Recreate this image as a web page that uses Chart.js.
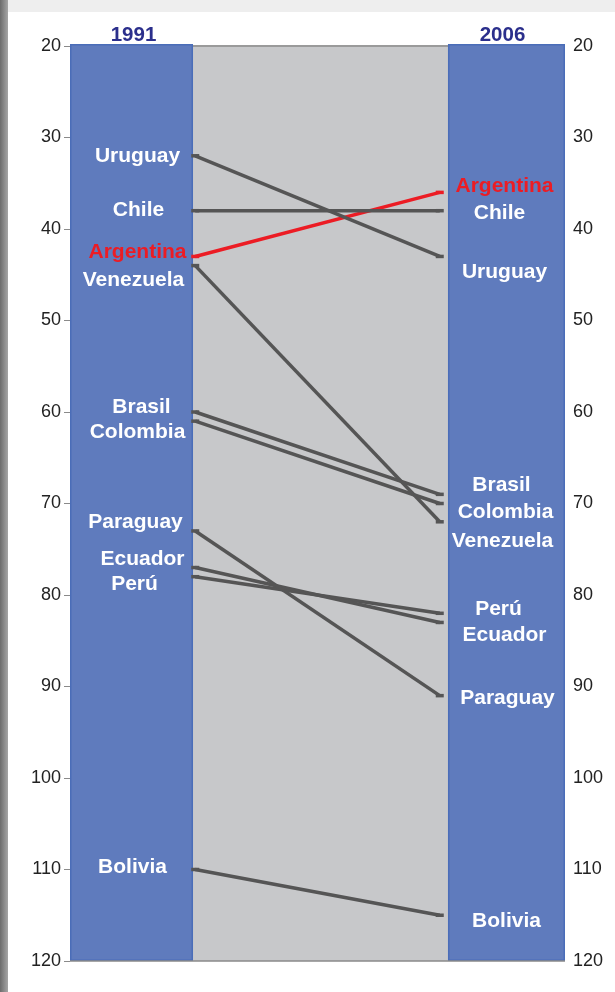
<!DOCTYPE html>
<html>
<head>
<meta charset="utf-8">
<script src="https://cdn.jsdelivr.net/npm/chart.js@4"></script>
<style>
  body { margin: 0; background: #fff; }
  #wrap { position: relative; width: 615px; height: 992px; overflow: hidden; }
  #shade { position: absolute; left: 0; top: 0; width: 8px; height: 992px; background: linear-gradient(to right, #6c6c6c, #a6a6a6); }
  #topband { position: absolute; left: 8px; top: 0; width: 607px; height: 12px; background: #eeeeee; }
  canvas { position: absolute; left: 0; top: 0; }
</style>
</head>
<body>
<div id="wrap">
  <div id="shade"></div>
  <div id="topband"></div>
  <canvas id="slope" width="615" height="992"></canvas>
</div>
<script>
const years = ['1991', '2006'];
const countries = ['Uruguay', 'Chile', 'Argentina', 'Venezuela', 'Brasil', 'Colombia', 'Paraguay', 'Ecuador', 'Perú', 'Bolivia'];
const rank1991 = [32, 38, 43, 44, 60, 61, 73, 77, 78, 110];
const rank2006 = [43, 38, 36, 72, 69, 70, 91, 83, 82, 115];
const yTicks = [20, 30, 40, 50, 60, 70, 80, 90, 100, 110, 120];

// where the text boxes sit (in rank units), they don't always match the line ends
const labelY1991 = [32.0, 38.0, 42.5, 45.6, 59.5, 62.2, 72.0, 76.1, 78.8, 109.8];
const labelY2006 = [44.7, 38.3, 35.3, 74.1, 68.0, 70.9, 91.3, 84.4, 81.5, 115.6];
const labelDx1991 = [6, 7, 6, 2, 10, 6, 4, 11, 3, 1];
const labelDx2006 = [-2, -7, -2, -4, -5, -1, 1, -2, -8, 0];

// x positions on a 0..100 axis
const X_LEFT = 25.3, X_RIGHT = 74.7;
const BAR1 = [0, 24.85], BAR2 = [76.36, 100];

const BLUE = '#5f7bbd';
const GREY_LINE = '#555555';
const RED = '#ec1c24';

const datasets = countries.map((name, i) => {
  const col = name === 'Argentina' ? RED : GREY_LINE;
  return {
    label: name,
    data: [{x: X_LEFT, y: rank1991[i]}, {x: X_RIGHT, y: rank2006[i]}],
    borderColor: col,
    backgroundColor: col,
    borderWidth: 3.5,
    pointStyle: 'line',
    pointRadius: 4,
    pointBorderWidth: 3.5,
    pointBorderColor: col,
    showLine: true,
    fill: false
  };
});

const columns = {
  id: 'columns',
  beforeDatasetsDraw(chart) {
    const {ctx, chartArea: a, scales: {x}} = chart;
    ctx.save();
    const b1l = x.getPixelForValue(BAR1[0]), b1r = x.getPixelForValue(BAR1[1]);
    const b2l = x.getPixelForValue(BAR2[0]), b2r = x.getPixelForValue(BAR2[1]);
    ctx.fillStyle = '#c7c8ca';
    ctx.fillRect(b1r, a.top, b2l - b1r, a.bottom - a.top);
    ctx.strokeStyle = '#9a9a9a';
    ctx.lineWidth = 2;
    ctx.beginPath();
    ctx.moveTo(b1r, a.top);
    ctx.lineTo(b2l, a.top);
    ctx.stroke();
    ctx.fillStyle = BLUE;
    ctx.strokeStyle = '#4a6db8';
    ctx.lineWidth = 1.5;
    [[b1l, b1r], [b2l, b2r]].forEach(([l, r]) => {
      ctx.fillRect(l, a.top - 2, r - l, a.bottom - a.top + 2);
      ctx.strokeRect(l + 0.75, a.top - 1.25, r - l - 1.5, a.bottom - a.top + 0.5);
    });
    ctx.strokeStyle = '#8a8a8a';
    ctx.lineWidth = 1.5;
    ctx.beginPath();
    ctx.moveTo(a.left, a.bottom);
    ctx.lineTo(a.right, a.bottom);
    ctx.stroke();
    // year headers
    ctx.fillStyle = '#2b2f8c';
    ctx.font = 'bold 20.5px "Liberation Sans", Arial, sans-serif';
    ctx.textAlign = 'center';
    ctx.textBaseline = 'alphabetic';
    ctx.fillText(years[0], (b1l + b1r) / 2 + 2, 41);
    ctx.fillText(years[1], (b2l + b2r) / 2 - 4, 41);
    ctx.restore();
  },
  afterDatasetsDraw(chart) {
    const {ctx, scales: {x, y}} = chart;
    const c1 = (x.getPixelForValue(BAR1[0]) + x.getPixelForValue(BAR1[1])) / 2;
    const c2 = (x.getPixelForValue(BAR2[0]) + x.getPixelForValue(BAR2[1])) / 2;
    ctx.save();
    ctx.font = 'bold 21px "Liberation Sans", Arial, sans-serif';
    ctx.textAlign = 'center';
    ctx.textBaseline = 'middle';
    countries.forEach((name, i) => {
      ctx.fillStyle = name === 'Argentina' ? RED : '#ffffff';
      ctx.fillText(name, c1 + labelDx1991[i], y.getPixelForValue(labelY1991[i]));
      ctx.fillText(name, c2 + labelDx2006[i], y.getPixelForValue(labelY2006[i]));
    });
    ctx.restore();
  }
};

const tickFont = {family: '"Liberation Sans", Arial, sans-serif', size: 18};

new Chart(document.getElementById('slope'), {
  type: 'scatter',
  data: {datasets: datasets},
  options: {
    responsive: false,
    animation: false,
    layout: {padding: {top: 46, bottom: 31, left: 0, right: 0}},
    plugins: {legend: {display: false}, tooltip: {enabled: false}},
    scales: {
      x: {type: 'linear', min: 0, max: 100, display: false},
      y: {
        position: 'left',
        reverse: true,
        min: yTicks[0],
        max: yTicks[yTicks.length - 1],
        afterBuildTicks: s => { s.ticks = yTicks.map(v => ({value: v})); },
        afterFit: s => { s.width = 70; },
        grid: {drawOnChartArea: false, tickLength: 6, color: '#8a8a8a'},
        border: {display: false},
        ticks: {font: tickFont, color: '#222', padding: 3}
      },
      y2: {
        position: 'right',
        reverse: true,
        min: yTicks[0],
        max: yTicks[yTicks.length - 1],
        afterBuildTicks: s => { s.ticks = yTicks.map(v => ({value: v})); },
        afterFit: s => { s.width = 50; },
        grid: {drawOnChartArea: false, drawTicks: false},
        border: {display: false},
        ticks: {font: tickFont, color: '#222', padding: 8}
      }
    }
  },
  plugins: [columns]
});
</script>
</body>
</html>
